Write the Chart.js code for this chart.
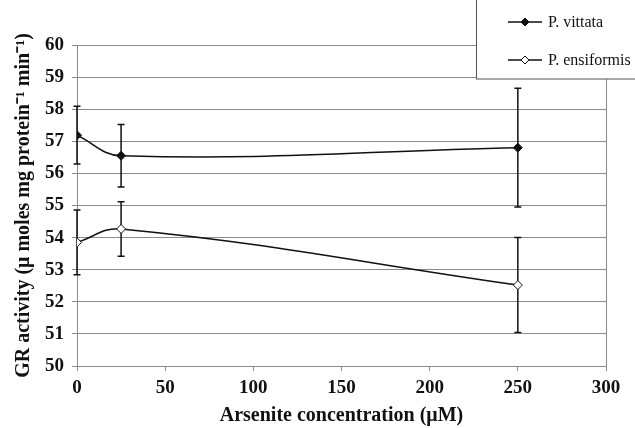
<!DOCTYPE html>
<html>
<head>
<meta charset="utf-8">
<script src="https://cdn.jsdelivr.net/npm/chart.js@4/dist/chart.umd.min.js"></script>
<style>
  html, body { margin: 0; padding: 0; background: #fff; }
  #wrap { width: 635px; height: 428px; }
</style>
</head>
<body>
<div id="wrap"><canvas id="c" width="635" height="428"></canvas></div>
<script>
// ---- data ----
const concentrations = [0, 25, 250];
const vittataValues = [57.19, 56.55, 56.8];
const vittataErrors = [0.9, 0.97, 1.85];
const ensiformisValues = [53.85, 54.27, 52.52];
const ensiformisErrors = [1.01, 0.85, 1.48];
const seriesNames = ['P. vittata', 'P. ensiformis'];
const xTitle = 'Arsenite concentration (\u03bcM)';
const yTitle = 'GR activity (\u03bc moles mg protein\u207b\u00b9 min\u207b\u00b9)';

const serif = '"Liberation Serif", "Times New Roman", serif';
const gridColor = '#8a8a8a';

function toPoints(xs, ys) { return xs.map((x, i) => ({ x: x, y: ys[i] })); }

const errorBars = {
  id: 'errorBars',
  beforeDatasetsDraw(chart) {
    const ctx = chart.ctx;
    const ys = chart.scales.y, xs = chart.scales.x;
    chart.data.datasets.forEach(ds => {
      const errs = ds.errors || [];
      ds.data.forEach((p, i) => {
        const e = errs[i]; if (e == null) return;
        const px = xs.getPixelForValue(p.x);
        const top = ys.getPixelForValue(p.y + e);
        const bot = ys.getPixelForValue(p.y - e);
        ctx.save();
        ctx.strokeStyle = '#111';
        ctx.lineWidth = 1.5;
        ctx.beginPath();
        ctx.moveTo(px, top); ctx.lineTo(px, bot);
        ctx.moveTo(px - 3.5, top); ctx.lineTo(px + 3.5, top);
        ctx.moveTo(px - 3.5, bot); ctx.lineTo(px + 3.5, bot);
        ctx.stroke();
        ctx.restore();
      });
    });
  }
};

const boxLegend = {
  id: 'boxLegend',
  afterDraw(chart) {
    const ctx = chart.ctx;
    ctx.save();
    ctx.fillStyle = '#fff';
    ctx.fillRect(476, -2, 170, 81);
    ctx.strokeStyle = '#555';
    ctx.lineWidth = 1;
    ctx.strokeRect(476.5, -2, 170, 81);
    const rows = [22, 60];
    chart.data.datasets.forEach((ds, i) => {
      const y = rows[i];
      ctx.strokeStyle = '#111';
      ctx.lineWidth = 1.5;
      ctx.beginPath(); ctx.moveTo(508, y); ctx.lineTo(542, y); ctx.stroke();
      ctx.beginPath();
      const r = 4;
      ctx.moveTo(525, y - r); ctx.lineTo(525 + r, y); ctx.lineTo(525, y + r); ctx.lineTo(525 - r, y); ctx.closePath();
      ctx.fillStyle = ds.pointBackgroundColor;
      ctx.fill();
      ctx.lineWidth = 1;
      ctx.stroke();
      ctx.fillStyle = '#111';
      ctx.font = '16px ' + serif;
      ctx.textBaseline = 'middle';
      ctx.textAlign = 'left';
      ctx.fillText(ds.label, 548, y + 1);
    });
    ctx.restore();
  }
};

new Chart(document.getElementById('c'), {
  type: 'line',
  data: {
    datasets: [
      {
        label: seriesNames[0],
        data: toPoints(concentrations, vittataValues),
        errors: vittataErrors,
        borderColor: '#111', borderWidth: 1.5,
        pointStyle: 'rectRot', pointRadius: 4.5,
        pointBackgroundColor: '#111', pointBorderColor: '#111', pointBorderWidth: 1,
        tension: 0.4, fill: false
      },
      {
        label: seriesNames[1],
        data: toPoints(concentrations, ensiformisValues),
        errors: ensiformisErrors,
        borderColor: '#111', borderWidth: 1.5,
        pointStyle: 'rectRot', pointRadius: 4.5,
        pointBackgroundColor: '#fff', pointBorderColor: '#111', pointBorderWidth: 1,
        tension: 0.4, fill: false
      }
    ]
  },
  options: {
    responsive: false,
    animation: false,
    devicePixelRatio: 1,
    layout: { padding: { top: 45, right: 29, left: 0, bottom: 0 } },
    plugins: { legend: { display: false }, tooltip: { enabled: false } },
    scales: {
      x: {
        type: 'linear', min: 0, max: 300,
        ticks: { stepSize: 50, color: '#111', font: { family: serif, size: 19, weight: 'bold' }, padding: 6 },
        grid: { display: true, drawOnChartArea: false, drawTicks: true, tickLength: 5, color: gridColor },
        border: { color: gridColor, width: 1 },
        title: { display: true, text: xTitle, color: '#111', font: { family: serif, size: 20, weight: 'bold' }, padding: { top: 0, bottom: 0 } },
        afterFit(s) { s.height = 62; }
      },
      y: {
        min: 50, max: 60,
        ticks: { stepSize: 1, color: '#111', font: { family: serif, size: 19, weight: 'bold' }, padding: 8 },
        grid: { color: gridColor, lineWidth: 1, drawTicks: true, tickLength: 5 },
        border: { color: gridColor, width: 1 },
        title: { display: true, text: yTitle, color: '#111', font: { family: serif, size: 20, weight: 'bold' }, padding: { top: 12, bottom: 0 } },
        afterFit(s) { s.width = 77; }
      }
    }
  },
  plugins: [errorBars, boxLegend, {
    id: 'rightBorder',
    beforeDatasetsDraw(chart) {
      const a = chart.chartArea, ctx = chart.ctx;
      ctx.save(); ctx.strokeStyle = gridColor; ctx.lineWidth = 1;
      ctx.beginPath(); ctx.moveTo(a.right + 0.5, a.top); ctx.lineTo(a.right + 0.5, a.bottom); ctx.stroke();
      ctx.restore();
    }
  }]
});
</script>
</body>
</html>
